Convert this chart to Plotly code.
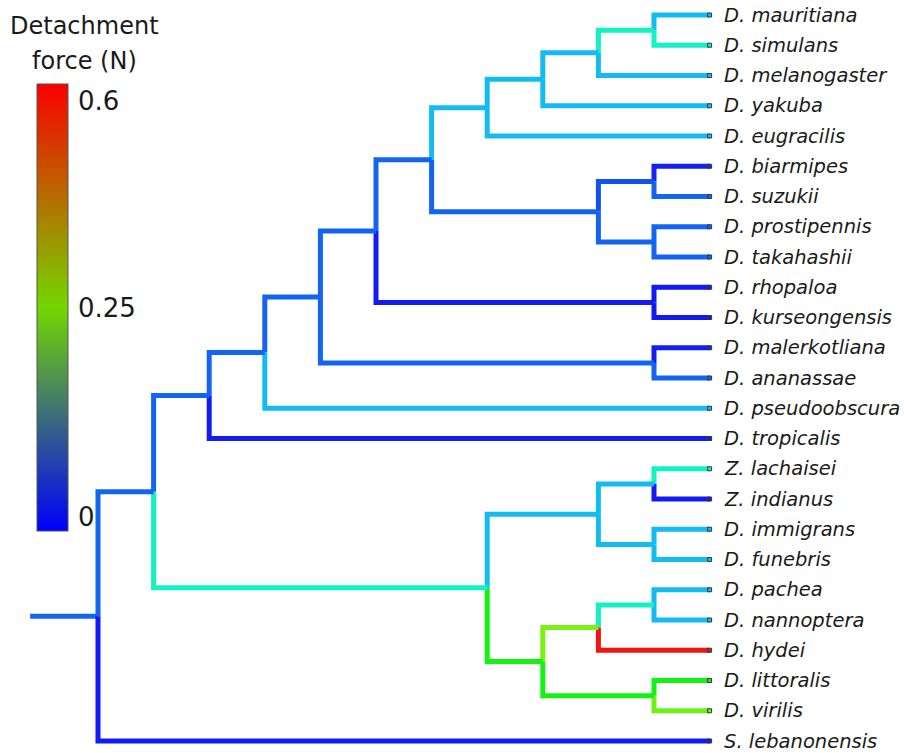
import colorsys
import plotly.graph_objects as go

# Tip taxa, top to bottom
species = [
    "D. mauritiana", "D. simulans", "D. melanogaster", "D. yakuba", "D. eugracilis",
    "D. biarmipes", "D. suzukii", "D. prostipennis", "D. takahashii",
    "D. rhopaloa", "D. kurseongensis", "D. malerkotliana", "D. ananassae",
    "D. pseudoobscura", "D. tropicalis", "Z. lachaisei", "Z. indianus",
    "D. immigrans", "D. funebris", "D. pachea", "D. nannoptera", "D. hydei",
    "D. littoralis", "D. virilis", "S. lebanonensis",
]
# Detachment force (N) on each terminal branch
tip_force = [
    0.094, 0.152, 0.094, 0.094, 0.094,
    0.008, 0.045, 0.045, 0.045,
    0.003, 0.003, 0.006, 0.045,
    0.094, 0.006, 0.152, 0.004,
    0.094, 0.094, 0.094, 0.094, 0.60,
    0.25, 0.32, 0.003,
]

# Internal nodes: id, children, reconstructed force on the branch leading to it
clade_id = ["N1", "N2", "N3", "N4", "N5", "N6", "N7", "N8", "N9", "N10", "N11", "N12",
            "N13", "N14", "N15", "N16", "N17", "N18", "N19", "N20", "N21", "N22", "N23", "N24"]
clade_children = [
    ("D. mauritiana", "D. simulans"),
    ("N1", "D. melanogaster"),
    ("N2", "D. yakuba"),
    ("N3", "D. eugracilis"),
    ("D. biarmipes", "D. suzukii"),
    ("D. prostipennis", "D. takahashii"),
    ("N5", "N6"),
    ("N4", "N7"),
    ("D. rhopaloa", "D. kurseongensis"),
    ("N8", "N9"),
    ("D. malerkotliana", "D. ananassae"),
    ("N10", "N11"),
    ("N12", "D. pseudoobscura"),
    ("N13", "D. tropicalis"),
    ("Z. lachaisei", "Z. indianus"),
    ("D. immigrans", "D. funebris"),
    ("N15", "N16"),
    ("D. pachea", "D. nannoptera"),
    ("N18", "D. hydei"),
    ("D. littoralis", "D. virilis"),
    ("N19", "N20"),
    ("N17", "N21"),
    ("N14", "N22"),
    ("N23", "S. lebanonensis"),
]
clade_force = [
    0.152, 0.094, 0.094, 0.094, 0.035, 0.045, 0.045, 0.045, 0.004, 0.045, 0.045, 0.045,
    0.045, 0.045, 0.094, 0.094, 0.094, 0.152, 0.33, 0.25, 0.25, 0.152, 0.045, 0.045,
]
root_edge = 1.22

# Colour scale: 0 -> blue, 0.25 -> green (mid-point), 0.6 -> red
scale_ticks = [0, 0.25, 0.6]
scale_pos = [0.0, 0.5, 1.0]


def to_pos(v):
    for i in range(len(scale_ticks) - 1):
        a, b = scale_ticks[i], scale_ticks[i + 1]
        if v <= b or i == len(scale_ticks) - 2:
            t = (v - a) / (b - a)
            return scale_pos[i] + t * (scale_pos[i + 1] - scale_pos[i])


def branch_colour(v):
    hue = (1.0 - min(max(to_pos(v), 0), 1)) * 240.0 / 360.0
    r, g, b = colorsys.hsv_to_rgb(hue, 0.92, 0.95)
    return "rgb(%d,%d,%d)" % (round(r * 255), round(g * 255), round(b * 255))


# ---- layout of the cladogram (tips aligned, nodes by height) ----
children = dict(zip(clade_id, clade_children))
force = dict(zip(species, tip_force))
force.update(zip(clade_id, clade_force))
root = clade_id[-1]

height, ypos = {}, {}
for i, s in enumerate(species):
    height[s] = 0
    ypos[s] = i


def place(n):
    if n in height:
        return
    for c in children[n]:
        place(c)
    height[n] = 1 + max(height[c] for c in children[n])
    ypos[n] = sum(ypos[c] for c in children[n]) / len(children[n])


place(root)
H = height[root]
xpos = {n: H - h for n, h in height.items()}

fig = go.Figure()

# root stem
fig.add_trace(go.Scatter(
    x=[xpos[root] - root_edge, xpos[root]], y=[ypos[root], ypos[root]],
    mode="lines", line=dict(color=branch_colour(force[root]), width=5),
    hoverinfo="skip", showlegend=False))

# elbow branches: vertical at parent, then horizontal to child
for p in clade_id:
    for c in children[p]:
        fig.add_trace(go.Scatter(
            x=[xpos[p], xpos[p], xpos[c]],
            y=[ypos[p], ypos[c], ypos[c]],
            mode="lines", line=dict(color=branch_colour(force[c]), width=5),
            hoverinfo="skip", showlegend=False))

# tip markers
fig.add_trace(go.Scatter(
    x=[xpos[s] for s in species], y=[ypos[s] for s in species],
    mode="markers",
    marker=dict(symbol="square", size=4, color=[branch_colour(v) for v in tip_force],
                line=dict(color="#2b3a40", width=1)),
    hoverinfo="skip", showlegend=False))

# colour bar
fig.add_trace(go.Scatter(
    x=[None], y=[None], mode="markers",
    marker=dict(color=[0.0], cmin=0, cmax=1, showscale=True,
                colorscale=[[0.0, "#0000fa"], [0.5, "#74d600"], [1.0, "#fa0000"]],
                colorbar=dict(x=37 / 904, xanchor="left", y=1 - 84 / 753, yanchor="top",
                              lenmode="pixels", len=447, thicknessmode="pixels", thickness=31,
                              xpad=0, ypad=0, outlinewidth=1, outlinecolor="#555555",
                              tickvals=[to_pos(v) for v in scale_ticks],
                              showticklabels=False, ticks="")),
    hoverinfo="skip", showlegend=False))

annotations = []
for s in species:
    annotations.append(dict(
        x=xpos[s], y=ypos[s], xref="x", yref="y", text=s, showarrow=False,
        xanchor="left", yanchor="middle", xshift=12,
        font=dict(family="DejaVu Sans", size=19.5, style="italic", color="#1a1a1a")))

bar_top, bar_len = 84, 447
tick_anchor = ["bottom", "middle", "top"]
tick_shift = [-3, 0, 0]
for v, anc, sh in zip(scale_ticks, tick_anchor, tick_shift):
    annotations.append(dict(
        x=76 / 904, y=1 - (bar_top + bar_len * (1 - to_pos(v))) / 753,
        xref="paper", yref="paper", text=("%g" % v), showarrow=False,
        xanchor="left", yanchor=anc, yshift=sh,
        font=dict(family="DejaVu Sans", size=26, color="#1a1a1a")))

annotations.append(dict(x=84 / 904, y=1 - 26 / 753, xref="paper", yref="paper",
                        text="Detachment", showarrow=False, xanchor="center", yanchor="middle",
                        font=dict(family="DejaVu Sans", size=24, color="#1a1a1a")))
annotations.append(dict(x=84 / 904, y=1 - 61 / 753, xref="paper", yref="paper",
                        text="force (N)", showarrow=False, xanchor="center", yanchor="middle",
                        font=dict(family="DejaVu Sans", size=24, color="#1a1a1a")))

step = 55.6
fig.update_layout(
    width=904, height=753, margin=dict(l=0, r=0, t=0, b=0),
    paper_bgcolor="white", plot_bgcolor="white",
    xaxis=dict(range=[-98 / step, (904 - 98) / step], visible=False, fixedrange=True),
    yaxis=dict(range=[(753 - 15) / 30.25, -15 / 30.25], visible=False, fixedrange=True),
    annotations=annotations,
)

fig.write_html("out.html")
